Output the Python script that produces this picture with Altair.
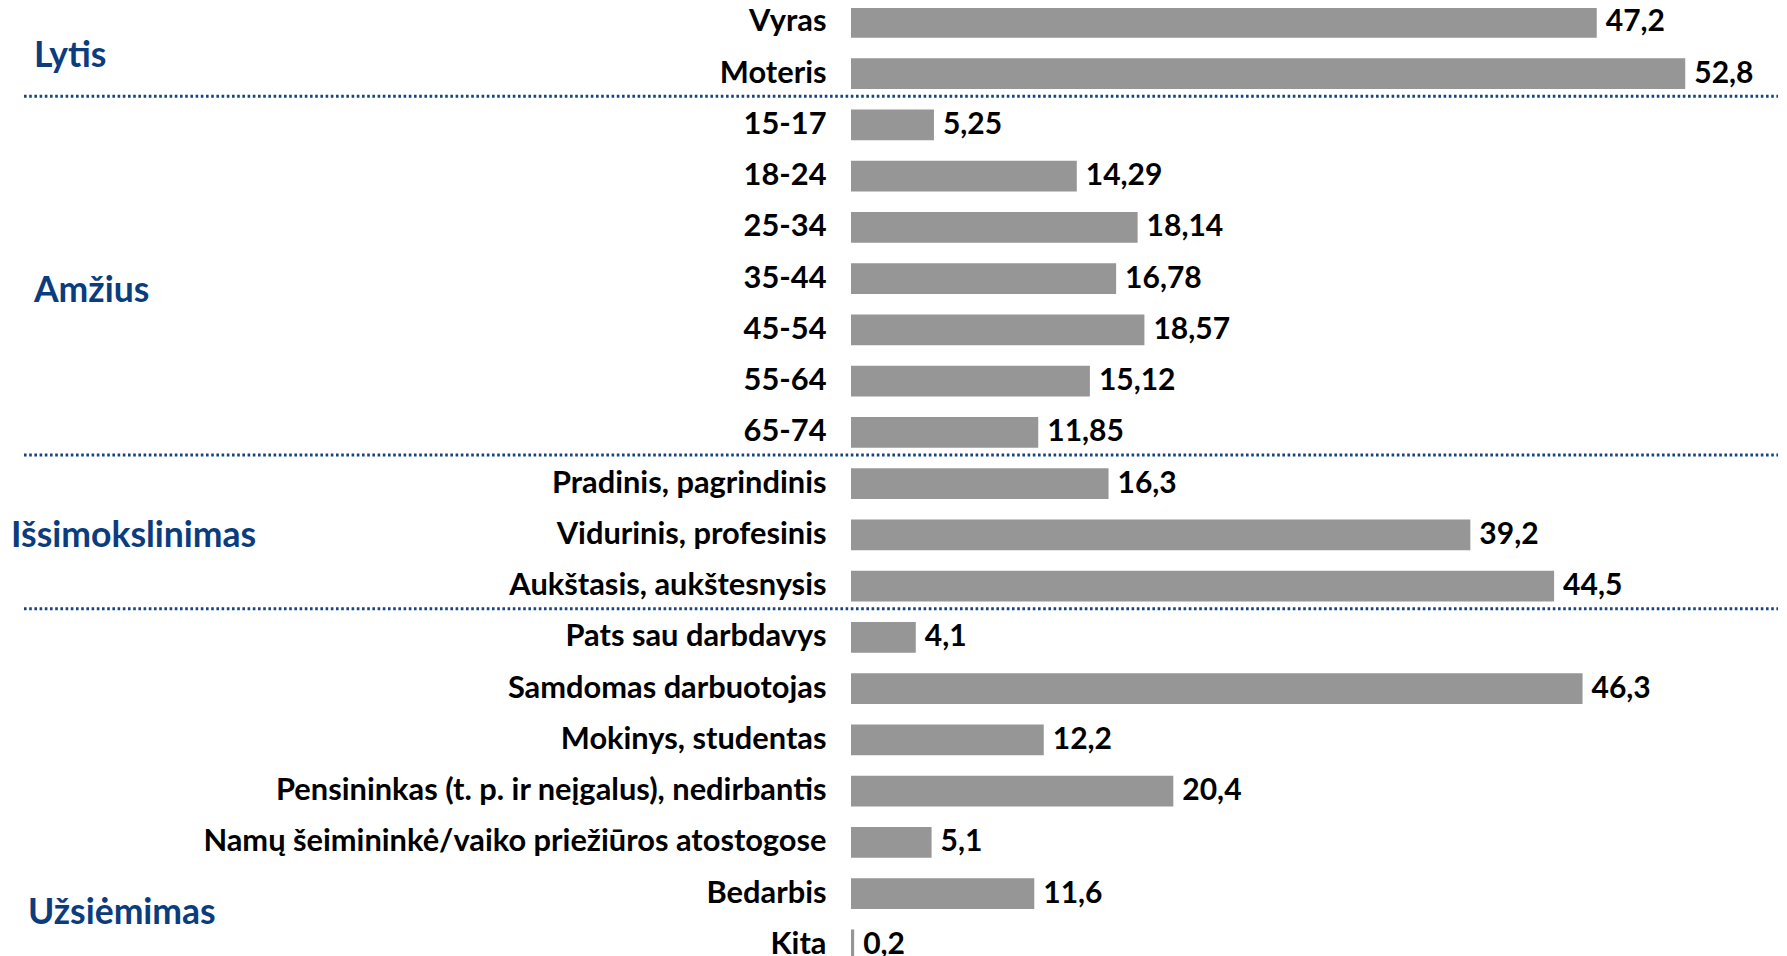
import altair as alt
import pandas as pd

categories = [
    "Vyras", "Moteris",
    "15-17", "18-24", "25-34", "35-44", "45-54", "55-64", "65-74",
    "Pradinis, pagrindinis", "Vidurinis, profesinis", "Aukštasis, aukštesnysis",
    "Pats sau darbdavys", "Samdomas darbuotojas\u00a0", "Mokinys, studentas",
    "Pensininkas (t. p. ir neįgalus), nedirbantis",
    "Namų šeimininkė/vaiko priežiūros atostogose", "Bedarbis", "Kita",
]
values = [47.2, 52.8, 5.25, 14.29, 18.14, 16.78, 18.57, 15.12, 11.85,
          16.3, 39.2, 44.5, 4.1, 46.3, 12.2, 20.4, 5.1, 11.6, 0.2]

# separators drawn above these categories
separator_before = ["15-17", "Pradinis, pagrindinis", "Pats sau darbdavys"]

# group titles and the category row they sit next to
group_names = ["Lytis", "Amžius", "Išsimokslinimas", "Užsiėmimas"]
group_anchor = ["Moteris", "35-44", "Vidurinis, profesinis", "Bedarbis"]

df = pd.DataFrame({"cat": categories, "val": values})
df["lbl"] = [str(v).replace(".", ",") for v in values]

FONT = "Lato"
STEP = 51.25
PIN = 0.4
BW = STEP * (1 - PIN)
R0 = 14.3 - BW / 2
R1 = R0 + STEP * (len(categories) - PIN)
W = 928
XMAX = W / 15.8

yscale = alt.Scale(domain=categories, range=[R0, R1], paddingInner=PIN, paddingOuter=0)
xscale = alt.Scale(domain=[0, XMAX], nice=False, zero=True)

yaxis = alt.Axis(title=None, domain=False, ticks=False, grid=False, labelPadding=25,
                 labelFont=FONT, labelFontSize=30.8, labelFontWeight="bold",
                 labelColor="#000000", labelLimit=1200, labelAlign="right",
                 labelBaseline="middle")

base = alt.Chart(df)

bars = base.mark_bar(color="#969696").encode(
    x=alt.X("val:Q", scale=xscale, axis=None),
    y=alt.Y("cat:N", scale=yscale, sort=categories, axis=yaxis),
)

texts = base.mark_text(align="left", baseline="middle", dx=9, font=FONT,
                       fontSize=30, fontWeight="bold", color="#000000").encode(
    x=alt.X("val:Q", scale=xscale, axis=None),
    y=alt.Y("cat:N", scale=yscale, sort=categories, axis=yaxis),
    text="lbl:N",
)

sep_df = pd.DataFrame({"cat": separator_before})
seps = alt.Chart(sep_df).mark_rule(
    color="#17457F", strokeWidth=3, strokeDash=[2.6, 2.6], yOffset=-STEP / 2 - 3
).encode(
    y=alt.Y("cat:N", scale=yscale, sort=categories, axis=yaxis),
    x=alt.value(-827),
    x2=alt.value(927),
)

group_dy = [-17.5, 12.5, 1, 19]
group_x = [-817, -817, -840, -823]
glayers = []
for name, anchor, dy, gx in zip(group_names, group_anchor, group_dy, group_x):
    gdf = pd.DataFrame({"cat": [anchor], "name": [name]})
    glayers.append(
        alt.Chart(gdf).mark_text(align="left", baseline="middle", dy=dy, font=FONT,
                                 fontSize=35.5, fontWeight="bold", color="#0B3C7D").encode(
            y=alt.Y("cat:N", scale=yscale, sort=categories, axis=yaxis),
            x=alt.value(gx),
            text="name:N",
        )
    )

chart = alt.layer(bars, texts, seps, *glayers).properties(
    width=W, height=948,
    autosize=alt.AutoSizeParams(type="none"),
    padding={"left": 843, "top": 0, "right": 0, "bottom": 0},
).configure(background="#ffffff").configure_view(
    stroke=None, strokeWidth=0
).configure_axis(domain=False, grid=False, ticks=False)

chart.save("out.html", embed_options={"renderer": "svg", "actions": False})
